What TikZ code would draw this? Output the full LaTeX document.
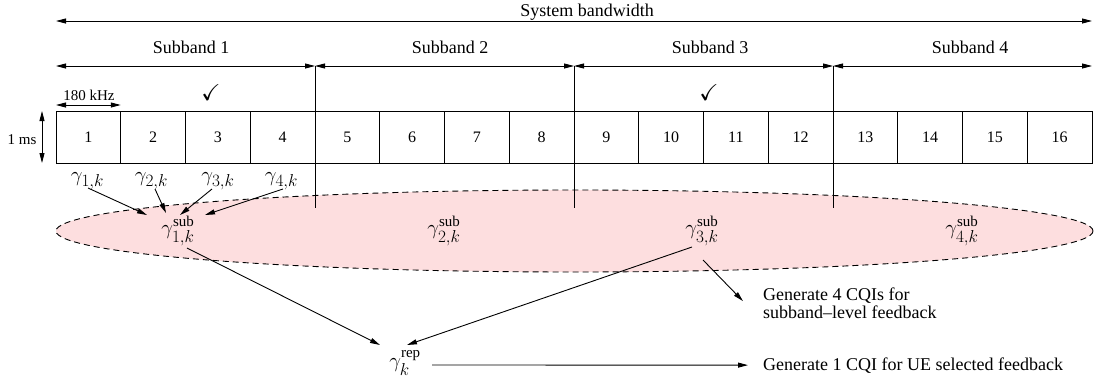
\documentclass[tikz,border=0pt]{standalone}
\usepackage{amssymb}
\usepackage[no-math]{fontspec}
\setmainfont{Liberation Serif}
\usetikzlibrary{arrows.meta,calc}
\DeclareMathSizes{22}{22}{18}{14}
\definecolor{ellfill}{RGB}{253,222,223}
\tikzset{
  arr/.style={-{Triangle[length=10pt,width=5pt]}, line width=0.9pt},
  darr/.style={{Triangle[length=10pt,width=5pt]}-{Triangle[length=10pt,width=5pt]}, line width=0.9pt},
  big/.style={font=\fontsize{18}{21}\selectfont, inner sep=0pt},
  small/.style={font=\fontsize{15}{18}\selectfont, inner sep=0pt},
  cellbox/.style={draw, line width=1pt, minimum width=64.75pt, minimum height=52pt, inner sep=0pt, outer sep=0pt, font=\fontsize{16}{19}\selectfont},
  mth/.style={font=\fontsize{22}{26}\selectfont, inner sep=0pt},
  chk/.style={font=\fontsize{23}{25}\selectfont, inner sep=0pt, anchor=base},
  divider/.style={line width=0.8pt},
  ell/.style={fill=ellfill, draw, line width=0.9pt, dash pattern=on 6pt off 4pt},
}
\newcommand{\supt}[1]{\mbox{\fontsize{15}{15}\selectfont #1}}
\begin{document}
\begin{tikzpicture}[x=1pt,y=-1pt]
\useasboundingbox (0,0) rectangle (1098,386);

% ellipse background
\path[ell] (574.5,231) ellipse [x radius=518.5, y radius=41];

% cells
\foreach \i in {1,...,16}
  \node[cellbox] (c\i) at ({56+(\i-0.5)*64.75},137) {\i};

% system bandwidth
\node[big, anchor=base] (sys) at (587,16) {System bandwidth};
\coordinate (sysL) at (56,21);
\coordinate (sysR) at (1092,21);
\draw[darr] (sysL) -- (sysR);

% subbands
\coordinate (s0) at (56,66);
\coordinate (s1) at (315,66);
\coordinate (s2) at (574,66);
\coordinate (s3) at (833,66);
\coordinate (s4) at (1092,66);
\node[big, anchor=base] (sb1) at (191,53) {Subband 1};
\node[big, anchor=base] (sb2) at (450,53) {Subband 2};
\node[big, anchor=base] (sb3) at (710,53) {Subband 3};
\node[big, anchor=base] (sb4) at (970,53) {Subband 4};
\draw[darr] (s0) -- (s1);
\draw[darr] (s1) -- (s2);
\draw[darr] (s2) -- (s3);
\draw[darr] (s3) -- (s4);
\coordinate (d1) at (315,208);
\coordinate (d2) at (574,208);
\coordinate (d3) at (833,208);
\draw[divider] (s1) -- (d1);
\draw[divider] (s2) -- (d2);
\draw[divider] (s3) -- (d3);

% 180 kHz and 1 ms
\node[small, anchor=base] (khz) at (89,100) {180 kHz};
\draw[darr] ($(c1.north west)+(0,-6)$) -- ($(c1.north east)+(0,-6)$);
\node[small, anchor=base] (ms) at (22,144) {1 ms};
\draw[darr] ($(c1.north west)+(-14,0)$) -- ($(c1.south west)+(-14,0)$);

% check marks
\node[chk] (ck1) at (211,100) {$\checkmark$};
\node[chk] (ck2) at (709,100) {$\checkmark$};

% per-RB gammas
\node[mth] (g1) at (87.5,181) {$\gamma_{1,k}$};
\node[mth] (g2) at (151.5,181) {$\gamma_{2,k}$};
\node[mth] (g3) at (218,181) {$\gamma_{3,k}$};
\node[mth] (g4) at (281.5,181) {$\gamma_{4,k}$};

% subband gammas
\node[mth] (gs1) at (178,231) {$\gamma^{\supt{sub}}_{1,k}$};
\node[mth] (gs2) at (444,231) {$\gamma^{\supt{sub}}_{2,k}$};
\node[mth] (gs3) at (702,231) {$\gamma^{\supt{sub}}_{3,k}$};
\node[mth] (gs4) at (962,231) {$\gamma^{\supt{sub}}_{4,k}$};

% representative gamma
\node[mth] (grep) at (405,363) {$\gamma^{\supt{rep}}_{k}$};

% generate texts
\node[big, anchor=base west] (gen4a) at (763,300) {Generate 4 CQIs for};
\node[big, anchor=base west] (gen4b) at (763,318) {subband–level feedback};
\node[big, anchor=base west] (gen1) at (763,370) {Generate 1 CQI for UE selected feedback};

% arrows into gamma_1^sub
\draw[arr] ($(g1)+(0.5,7)$) -- ($(gs1)+(-31,-16)$);
\draw[arr] ($(g2)+(3.5,8)$) -- ($(gs1)+(-12,-18)$);
\draw[arr] ($(g3)+(-6,8)$) -- ($(gs1)+(2,-16)$);
\draw[arr] ($(g4)+(1.5,8)$) -- ($(gs1)+(27,-16)$);

% arrows to gamma rep
\draw[arr] ($(gs1)+(9,17)$) -- ($(grep)+(-25,-18)$);
\draw[arr] ($(gs3)+(-10,16)$) -- ($(grep)+(2,-18)$);

% arrows to texts
\draw[arr] ($(gs3)+(1,29)$) -- ($(gen4a.west)+(-20,6)$);
\draw[arr] ($(grep)+(27,2)$) -- ($(gen1.west)+(-15,0)$);
\end{tikzpicture}
\end{document}
